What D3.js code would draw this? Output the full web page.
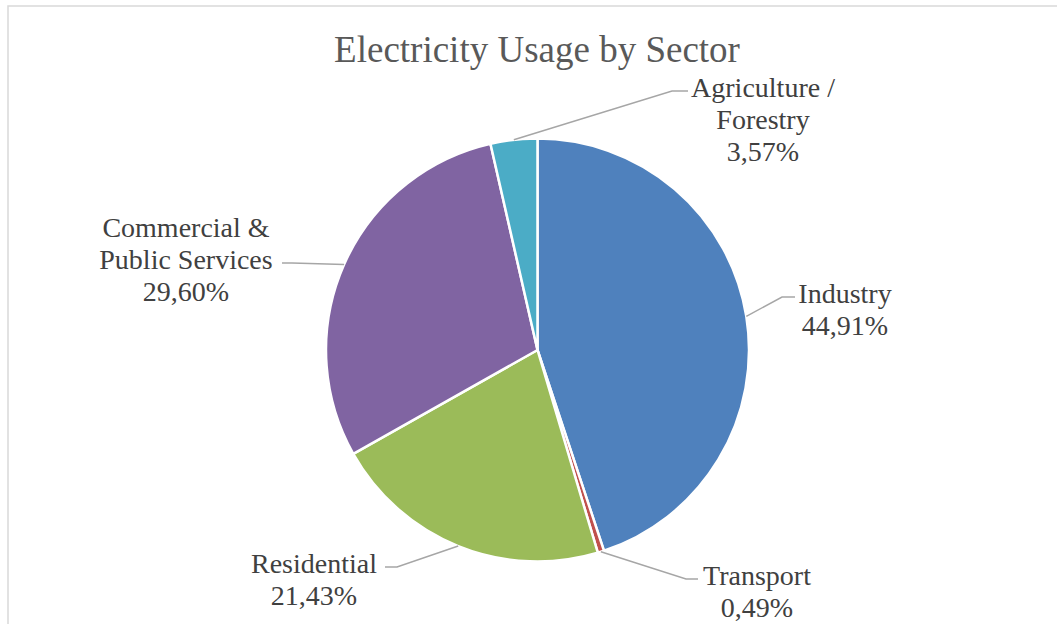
<!DOCTYPE html>
<html>
<head>
<meta charset="utf-8">
<script src="https://cdn.jsdelivr.net/npm/d3@7"></script>
</head>
<body style="margin:0">
<svg id="usage-pie" width="1057" height="624"></svg>
<script>
// Electricity usage shares by sector (percent)
const sectors = ["Industry", "Transport", "Residential", "Commercial & Public Services", "Agriculture / Forestry"];
const shares = [44.91, 0.49, 21.43, 29.60, 3.57];
const labelLines = [["Industry"], ["Transport"], ["Residential"], ["Commercial &", "Public Services"], ["Agriculture /", "Forestry"]];
const sectorColors = ["#4F81BD", "#C0504D", "#9BBB59", "#8064A2", "#4BACC6"];
const title = "Electricity Usage by Sector";

const cx = 537.5, cy = 350, R = 211.5;
const FONT = '"Liberation Serif", "Times New Roman", serif';

// Label block placement (text anchor point and elbow of the leader line)
const labelLayout = [
  { x: 845, y: 303, elbowX: 782, endX: 795, leaderLine: 0 },
  { x: 757, y: 585, elbowX: 686, endX: 698, leaderLine: 0 },
  { x: 314, y: 573, elbowX: 397, endX: 385, leaderLine: 0 },
  { x: 186, y: 237, elbowX: 292, endX: 282, leaderLine: 1 },
  { x: 763, y: 97, elbowX: 672, endX: 688, leaderLine: 0 }
];

const svg = d3.select("#usage-pie");
const locale = d3.formatLocale({ decimal: ",", thousands: ".", grouping: [3], currency: ["", ""] });
const fmt = locale.format(".2f");

// Chart area frame
svg.append("rect")
  .attr("x", 8).attr("y", 6)
  .attr("width", 1100).attr("height", 700)
  .attr("fill", "#fff")
  .attr("stroke", "#D9D9D9").attr("stroke-width", 1.5);

svg.append("text")
  .attr("x", 537).attr("y", 62)
  .attr("text-anchor", "middle")
  .attr("font-size", 37)
  .style("font-family", FONT)
  .attr("fill", "#595959")
  .text(title);

const data = sectors.map((s, i) => ({ name: s, value: shares[i], lines: labelLines[i], color: sectorColors[i], layout: labelLayout[i] }));

const pie = d3.pie().value(d => d.value).sort(null);
const arcs = pie(data);
const arc = d3.arc().innerRadius(0).outerRadius(R);
const edge = d3.arc().innerRadius(R).outerRadius(R);

const g = svg.append("g").attr("transform", `translate(${cx},${cy})`);

g.selectAll("path.slice")
  .data(arcs)
  .join("path")
  .attr("class", "slice")
  .attr("d", arc)
  .attr("fill", d => d.data.color)
  .attr("stroke", "#fff")
  .attr("stroke-width", 2.5)
  .attr("stroke-linejoin", "round");

const lineH = 32;

// Leader lines from the slice edge to the label, then the label text
arcs.forEach(a => {
  const L = a.data.layout;
  const [ex, ey] = edge.centroid(a);
  const sx = cx + ex, sy = cy + ey;
  const ly = L.y + L.leaderLine * lineH - 6;
  svg.append("polyline")
    .attr("points", [[sx, sy], [L.elbowX, ly], [L.endX, ly]].map(p => p.join(",")).join(" "))
    .attr("fill", "none")
    .attr("stroke", "#A6A6A6")
    .attr("stroke-width", 1.5);

  const lines = a.data.lines.concat([fmt(a.data.value) + "%"]);
  svg.selectAll(null)
    .data(lines)
    .join("text")
    .attr("x", L.x)
    .attr("y", (d, k) => L.y + k * lineH)
    .attr("text-anchor", "middle")
    .attr("font-size", 28)
    .style("font-family", FONT)
    .attr("fill", "#404040")
    .text(d => d);
});
</script>
</body>
</html>
